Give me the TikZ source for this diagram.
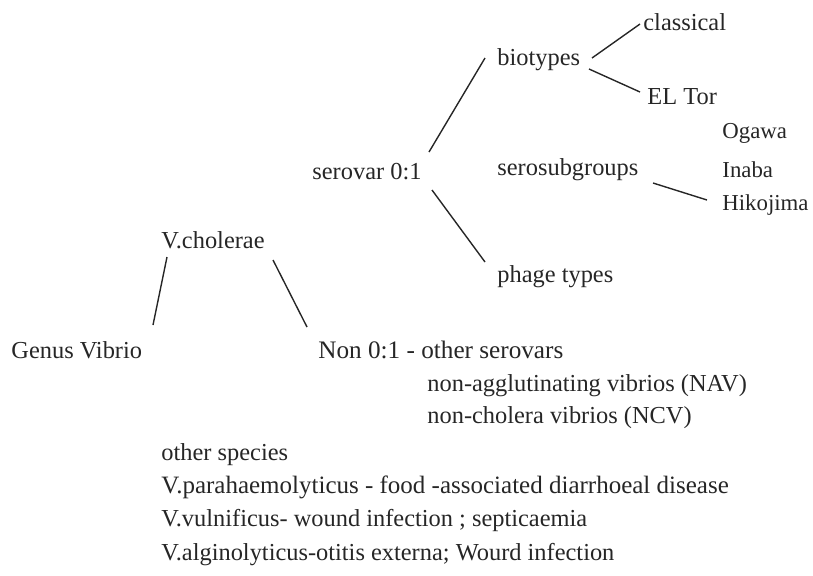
\documentclass[tikz,border=0pt]{standalone}
\usepackage{fontspec}
\setmainfont{Liberation Serif}
\begin{document}
\begin{tikzpicture}[x=0.5pt,y=-0.5pt,
  lab/.style={anchor=west,inner sep=0pt,font=\fontsize{12.2pt}{14pt}\selectfont,text=black!85},
  conn/.style={draw=black!85,line width=0.7pt}]
\useasboundingbox (0,0) rectangle (813,575);
\node[lab] (classical) at (643,22) {classical};
\node[lab] (biotypes) at (497,60) {biotypes};
\node[lab] (eltor) at (647,97) {EL Tor};
\node[lab] (serovar) at (312,172) {serovar 0:1};
\node[lab,font=\fontsize{11.4pt}{13pt}\selectfont] (ogawa) at (722,133) {Ogawa};
\node[lab] (serosub) at (497,170) {serosubgroups};
\node[lab,font=\fontsize{11.4pt}{13pt}\selectfont] (inaba) at (722,170) {Inaba};
\node[lab,font=\fontsize{11.4pt}{13pt}\selectfont] (hikojima) at (722,205) {Hikojima};
\node[lab] (vcholerae) at (161,240) {V.cholerae};
\node[lab] (phage) at (497,277) {phage types};
\node[lab] (genus) at (11,350) {Genus Vibrio};
\node[lab,font=\fontsize{12.6pt}{14pt}\selectfont] (non01) at (318,350) {Non 0:1 - other serovars};
\node[lab] (nav) at (427,386) {non-agglutinating vibrios (NAV)};
\node[lab] (ncv) at (427,418) {non-cholera vibrios (NCV)};
\node[lab] (other) at (161,455) {other species};
\node[lab,font=\fontsize{12.5pt}{14pt}\selectfont] (para) at (161,487) {V.parahaemolyticus - food -associated diarrhoeal disease};
\node[lab] (vuln) at (161,520) {V.vulnificus- wound infection ; septicaemia};
\node[lab] (algin) at (161,555) {V.alginolyticus-otitis externa; Wourd infection};
% connectors
\coordinate (c1a) at (167,257); \coordinate (c1b) at (153,325);
\draw[conn] (c1a) -- (c1b);
\coordinate (c2a) at (273,260); \coordinate (c2b) at (307,327);
\draw[conn] (c2a) -- (c2b);
\coordinate (s1a) at (429,152); \coordinate (s1b) at (485,58);
\draw[conn] (s1a) -- (s1b);
\coordinate (s2a) at (432,190); \coordinate (s2b) at (485,262);
\draw[conn] (s2a) -- (s2b);
\coordinate (b1a) at (592,58); \coordinate (b1b) at (640,24);
\draw[conn] (b1a) -- (b1b);
\coordinate (b2a) at (589,69); \coordinate (b2b) at (640,92);
\draw[conn] (b2a) -- (b2b);
\coordinate (h1a) at (653,183); \coordinate (h1b) at (707,200);
\draw[conn] (h1a) -- (h1b);
\end{tikzpicture}
\end{document}
